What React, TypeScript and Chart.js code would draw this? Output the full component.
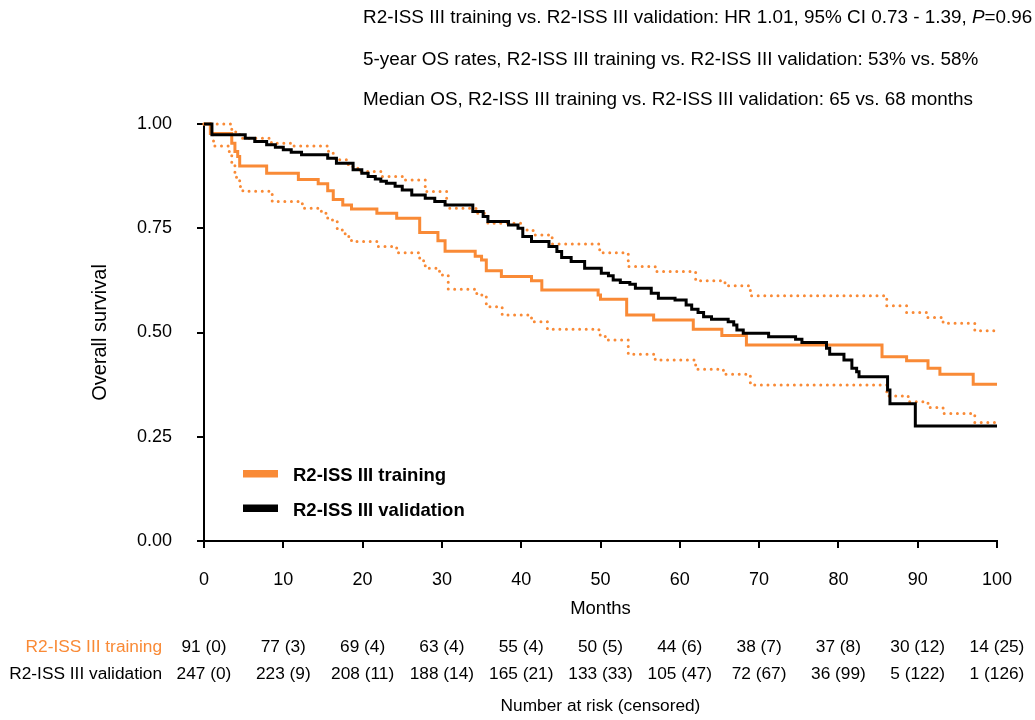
import React, { useEffect, useRef } from 'react';
import { Chart, registerables } from 'chart.js';

Chart.register(...registerables);

const FONT = '"Liberation Sans", Arial, Helvetica, sans-serif';
const ORANGE = '#F98A36';

// Kaplan-Meier: R2-ISS III training
const trainingTimes = [0, 0.8, 3.5, 3.9, 4.25, 4.5, 7.9, 11.9, 14.4, 15.6, 16.3, 17.5, 18.6, 21.8, 24.3, 27.2, 29.5, 30.4, 34.2, 35.0, 35.6, 37.5, 41.3, 42.6, 49.7, 50.0, 53.3, 56.7, 61.7, 65.3, 68.4, 85.5, 88.6, 91.3, 92.8, 97.0, 100];
const trainingSurv = [1.0, 0.977, 0.954, 0.934, 0.922, 0.899, 0.882, 0.867, 0.857, 0.84, 0.819, 0.806, 0.796, 0.786, 0.774, 0.74, 0.72, 0.695, 0.683, 0.674, 0.648, 0.634, 0.624, 0.602, 0.59, 0.58, 0.542, 0.53, 0.508, 0.493, 0.47, 0.442, 0.432, 0.414, 0.4, 0.376, 0.376];

// Upper 95% CI, training
const upperTimes = [0, 3.5, 4.0, 4.8, 8.5, 11.3, 15.7, 16.5, 18.2, 19.4, 22.3, 25.0, 27.9, 30.6, 34.3, 35.8, 40.1, 41.5, 43.9, 49.9, 53.5, 56.9, 62.0, 65.7, 68.9, 86.1, 88.6, 91.2, 93.2, 97.2, 100];
const upperSurv = [1.0, 0.985, 0.975, 0.966, 0.954, 0.947, 0.93, 0.914, 0.898, 0.886, 0.874, 0.866, 0.838, 0.798, 0.786, 0.762, 0.746, 0.734, 0.712, 0.691, 0.658, 0.646, 0.624, 0.612, 0.588, 0.564, 0.548, 0.536, 0.522, 0.504, 0.504];

// Lower 95% CI, training
const lowerTimes = [0, 0.9, 1.2, 3.1, 3.5, 3.9, 4.1, 4.5, 4.9, 8.6, 12.4, 14.8, 15.6, 16.8, 17.8, 18.6, 21.8, 24.3, 27.2, 27.9, 29.7, 30.8, 34.4, 35.6, 37.6, 41.3, 43.3, 49.8, 50.6, 53.5, 56.9, 62.0, 65.5, 68.9, 86.1, 88.8, 91.3, 93.2, 97.2, 100];
const lowerSurv = [1.0, 0.974, 0.947, 0.934, 0.906, 0.882, 0.866, 0.85, 0.839, 0.814, 0.798, 0.786, 0.77, 0.746, 0.73, 0.718, 0.706, 0.691, 0.672, 0.654, 0.638, 0.604, 0.59, 0.562, 0.542, 0.526, 0.508, 0.494, 0.482, 0.448, 0.434, 0.412, 0.4, 0.374, 0.348, 0.334, 0.32, 0.306, 0.284, 0.284];

// Kaplan-Meier: R2-ISS III validation
const validationTimes = [0, 1.0, 5.2, 6.4, 7.9, 9.0, 10.0, 11.0, 12.3, 15.6, 16.7, 18.8, 19.9, 20.7, 21.6, 22.3, 23.0, 24.1, 25.0, 26.2, 27.9, 29.1, 30.4, 33.9, 35.2, 35.8, 38.4, 39.6, 40.2, 41.3, 43.5, 44.5, 45.1, 46.3, 48.0, 50.1, 51.0, 51.6, 52.5, 53.7, 54.4, 56.4, 57.3, 59.4, 60.8, 61.5, 62.3, 63.0, 64.0, 66.1, 66.8, 67.2, 68.0, 71.2, 74.6, 75.4, 78.5, 78.9, 80.7, 81.7, 82.3, 82.6, 86.2, 86.5, 89.7, 100];
const validationSurv = [1.0, 0.974, 0.966, 0.958, 0.95, 0.944, 0.938, 0.932, 0.926, 0.918, 0.906, 0.89, 0.882, 0.874, 0.868, 0.863, 0.858, 0.851, 0.842, 0.83, 0.822, 0.814, 0.806, 0.79, 0.778, 0.766, 0.758, 0.75, 0.73, 0.718, 0.706, 0.694, 0.68, 0.67, 0.654, 0.642, 0.636, 0.626, 0.62, 0.616, 0.606, 0.594, 0.582, 0.578, 0.566, 0.556, 0.548, 0.538, 0.532, 0.526, 0.518, 0.506, 0.498, 0.49, 0.484, 0.476, 0.462, 0.448, 0.434, 0.414, 0.406, 0.394, 0.362, 0.329, 0.276, 0.276];

const xTickValues = [0, 10, 20, 30, 40, 50, 60, 70, 80, 90, 100];
const yTickValues = [0, 0.25, 0.5, 0.75, 1];
const yTickLabels = ['0.00', '0.25', '0.50', '0.75', '1.00'];

const riskMonths = [0, 10, 20, 30, 40, 50, 60, 70, 80, 90, 100];
const riskTraining = ['91 (0)', '77 (3)', '69 (4)', '63 (4)', '55 (4)', '50 (5)', '44 (6)', '38 (7)', '37 (8)', '30 (12)', '14 (25)'];
const riskValidation = ['247 (0)', '223 (9)', '208 (11)', '188 (14)', '165 (21)', '133 (33)', '105 (47)', '72 (67)', '36 (99)', '5 (122)', '1 (126)'];
const riskRowLabels = ['R2-ISS III training', 'R2-ISS III validation'];

const headerLine1 = 'R2-ISS III training vs. R2-ISS III validation: HR 1.01, 95% CI 0.73 - 1.39, ';
const headerLine1P = 'P';
const headerLine1End = '=0.96';
const headerLine2 = '5-year OS rates, R2-ISS III training vs. R2-ISS III validation: 53% vs. 58%';
const headerLine3 = 'Median OS, R2-ISS III training vs. R2-ISS III validation: 65 vs. 68 months';

const legendLabels = ['R2-ISS III training', 'R2-ISS III validation'];

const toXY = (t: number[], s: number[]) => t.map((x, i) => ({ x, y: s[i] }));

const annotationsPlugin = {
  id: 'kmAnnotations',
  afterDraw(chart: any) {
    const ctx = chart.ctx as CanvasRenderingContext2D;
    const xs = chart.scales.x;
    const area = chart.chartArea;
    ctx.save();
    ctx.fillStyle = '#000';
    ctx.textBaseline = 'alphabetic';

    // header
    const hx = 363;
    const hf = 18.9;
    ctx.font = `${hf}px ${FONT}`;
    ctx.textAlign = 'left';
    ctx.fillText(headerLine1, hx, 23);
    const w = ctx.measureText(headerLine1).width;
    ctx.font = `italic ${hf}px ${FONT}`;
    ctx.fillText(headerLine1P, hx + w, 23);
    const wp = ctx.measureText(headerLine1P).width;
    ctx.font = `${hf}px ${FONT}`;
    ctx.fillText(headerLine1End, hx + w + wp, 23);
    ctx.fillText(headerLine2, hx, 64.5);
    ctx.fillText(headerLine3, hx, 105);

    // legend
    const legendColors = [ORANGE, '#000'];
    const legendY = [473.5, 508];
    for (let i = 0; i < legendLabels.length; i++) {
      ctx.fillStyle = legendColors[i];
      ctx.fillRect(243, legendY[i] - 3.5, 35, 7.5);
      ctx.fillStyle = '#000';
      ctx.font = `bold 18.5px ${FONT}`;
      ctx.textAlign = 'left';
      ctx.fillText(legendLabels[i], 293, legendY[i] + 7.5);
    }

    // risk table
    ctx.font = `17.3px ${FONT}`;
    const rowY = [651.5, 678.5];
    ctx.textAlign = 'right';
    ctx.fillStyle = ORANGE;
    ctx.fillText(riskRowLabels[0], 162, rowY[0]);
    ctx.fillStyle = '#000';
    ctx.fillText(riskRowLabels[1], 162, rowY[1]);
    ctx.textAlign = 'center';
    riskMonths.forEach((m, i) => {
      const px = xs.getPixelForValue(m);
      ctx.fillText(riskTraining[i], px, rowY[0]);
      ctx.fillText(riskValidation[i], px, rowY[1]);
    });
    ctx.fillText('Number at risk (censored)', (area.left + area.right) / 2, 711);
    ctx.restore();
  },
};

export default function App() {
  const ref = useRef<HTMLCanvasElement | null>(null);
  useEffect(() => {
    if (!ref.current) return;
    const tickFont = { family: FONT, size: 18, lineHeight: 1.2 };
    const dotted = {
      borderColor: ORANGE,
      borderWidth: 3,
      borderDash: [0, 6.6],
      borderCapStyle: 'round',
      stepped: 'before',
      pointRadius: 0,
      fill: false,
      clip: 6,
    };
    const chart = new Chart(ref.current, {
      type: 'line',
      data: {
        datasets: [
          {
            label: 'R2-ISS III validation',
            data: toXY(validationTimes, validationSurv),
            borderColor: '#000',
            borderWidth: 3,
            stepped: 'before',
            pointRadius: 0,
            fill: false,
            clip: 6,
          },
          {
            label: 'R2-ISS III training',
            data: toXY(trainingTimes, trainingSurv),
            borderColor: ORANGE,
            borderWidth: 3,
            stepped: 'before',
            pointRadius: 0,
            fill: false,
            clip: 6,
          },
          { label: 'Upper CI', data: toXY(upperTimes, upperSurv), ...dotted },
          { label: 'Lower CI', data: toXY(lowerTimes, lowerSurv), ...dotted },
        ],
      },
      options: {
        responsive: false,
        animation: false,
        layout: { padding: { left: 0, top: 124, right: 38, bottom: 99 } },
        plugins: { legend: { display: false }, tooltip: { enabled: false } },
        scales: {
          x: {
            type: 'linear',
            min: 0,
            max: 100,
            afterBuildTicks: (s: any) => {
              s.ticks = xTickValues.map((v) => ({ value: v }));
            },
            afterFit: (s: any) => {
              s.height = 80;
            },
            ticks: {
              font: tickFont,
              color: '#000',
              padding: 21,
              maxRotation: 0,
              autoSkip: false,
              callback: (v: any) => String(v),
            },
            grid: { drawOnChartArea: false, drawTicks: true, tickLength: 7, color: '#000', lineWidth: 2 },
            border: { color: '#000', width: 2 },
            title: {
              display: true,
              text: 'Months',
              font: { family: FONT, size: 18.5, lineHeight: 1.2 },
              color: '#000',
              padding: { top: 0, bottom: 1.2 },
            },
          },
          y: {
            type: 'linear',
            min: 0,
            max: 1,
            afterBuildTicks: (s: any) => {
              s.ticks = yTickValues.map((v) => ({ value: v }));
            },
            afterFit: (s: any) => {
              s.width = 204;
            },
            ticks: {
              font: tickFont,
              color: '#000',
              padding: 25,
              callback: (v: any) => {
                const i = yTickValues.indexOf(Number(v));
                return i >= 0 ? yTickLabels[i] : '';
              },
            },
            grid: { drawOnChartArea: false, drawTicks: true, tickLength: 7, color: '#000', lineWidth: 2 },
            border: { color: '#000', width: 2 },
            title: {
              display: true,
              text: 'Overall survival',
              font: { family: FONT, size: 20, lineHeight: 1.2 },
              color: '#000',
              padding: { top: 88, bottom: 0 },
            },
          },
        },
      },
      plugins: [annotationsPlugin],
    } as any);
    return () => chart.destroy();
  }, []);

  return (
    <div style={{ position: 'absolute', left: 0, top: 0, width: 1035, height: 720, background: '#fff' }}>
      <canvas ref={ref} width={1035} height={720} style={{ display: 'block', width: 1035, height: 720 }} />
    </div>
  );
}
